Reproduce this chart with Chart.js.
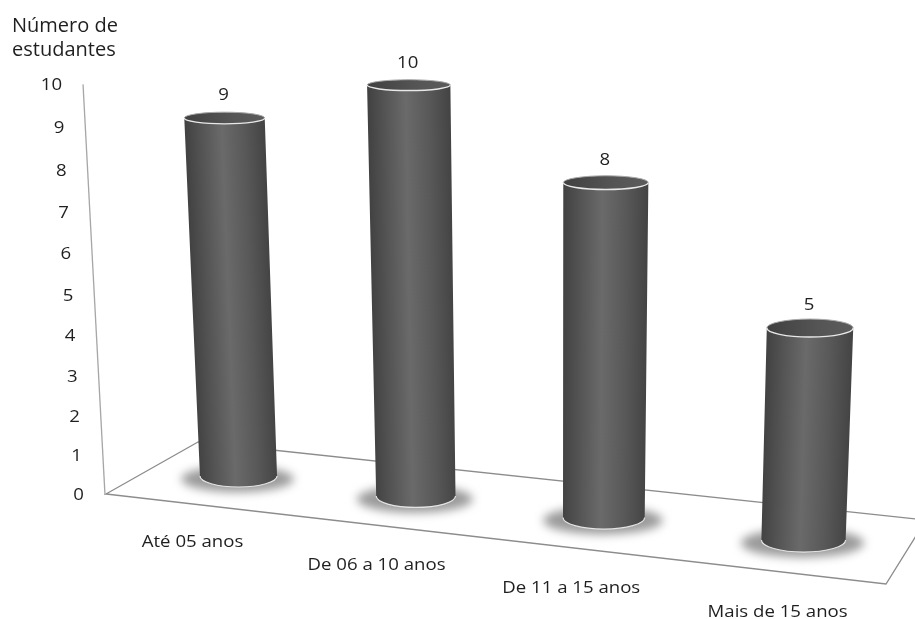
<!DOCTYPE html>
<html lang="pt">
<head>
<meta charset="utf-8">
<title>Número de estudantes</title>
<style>
  html, body { margin: 0; padding: 0; background: #ffffff; }
  canvas { display: block; }
</style>
<script src="https://cdn.jsdelivr.net/npm/chart.js@4"></script>
</head>
<body>
<canvas id="chart" width="915" height="619"></canvas>
<script>
const ageGroups = ['Até 05 anos', 'De 06 a 10 anos', 'De 11 a 15 anos', 'Mais de 15 anos'];
const studentCounts = [9, 10, 8, 5];
const axisTitle = ['Número de', 'estudantes'];
const valueAxisMax = 10;

const FONT = '"Open Sans", sans-serif';
const TEXT_COLOR = '#1f1f1f';
const LABEL_SIZE = 15.5;
const LABEL_STRETCH = 1.2;
const TITLE_SIZE = 20;

// Perspective camera: (category index, value) on the plane through the bar centres -> canvas.
const cam = { a: 165.55, b: -2.608, c: 238.5, d: 6.02, e: -40.33, f: 476, g: -0.02836, h: -0.004688 };
function project(u, v) {
  const w = cam.g * u + cam.h * v + 1;
  return { x: (cam.a * u + cam.b * v + cam.c) / w, y: (cam.d * u + cam.e * v + cam.f) / w, w };
}

// The value axis stands on the front-left corner of the floor.
function axisPoint(v) {
  const y = (495 - 41.5 * v) / (1 - 0.00521 * v);
  return { x: 105 - (495 - y) * 0.0535, y };
}

// Floor outline; the right rear corner falls just outside the canvas.
const floorFrame = [[198, 442], [106, 494], [886, 584], [926, 520]];

function drawFrame(ctx) {
  ctx.save();
  ctx.strokeStyle = '#8c8c8c';
  ctx.lineWidth = 1.3;
  ctx.beginPath();
  floorFrame.forEach(([x, y], i) => (i ? ctx.lineTo(x, y) : ctx.moveTo(x, y)));
  ctx.closePath();
  ctx.stroke();
  const top = axisPoint(valueAxisMax), bottom = axisPoint(0);
  ctx.strokeStyle = '#a6a6a6';
  ctx.beginPath();
  ctx.moveTo(top.x, top.y);
  ctx.lineTo(bottom.x, bottom.y);
  ctx.stroke();
  ctx.restore();
}

const SIDE_STOPS = [[0, '#424242'], [0.2, '#545454'], [0.46, '#6a6a6a'], [0.75, '#585858'], [1, '#444444']];

function drawCylinder(ctx, u, value, radiusUnits) {
  const base = project(u, 0), top = project(u, value);
  const R = radiusUnits * 172;
  const rxB = R / base.w, ryB = 11 / base.w;
  const rxT = R / top.w, ryT = (11 - 0.6 * value) / top.w;

  // contact shadow on the floor
  ctx.save();
  ctx.filter = 'blur(5px)';
  ctx.fillStyle = '#9a9a9a';
  ctx.beginPath();
  ctx.ellipse(base.x - 1, base.y + 3, rxB * 1.46, ryB * 1.2, 0, 0, Math.PI * 2);
  ctx.fill();
  ctx.restore();

  // shaded side, lit across the axis of the leaning cylinder
  const tx = top.x - base.x, ty = top.y - base.y, len = Math.hypot(tx, ty);
  const nx = ty / len, ny = -tx / len;        // points screen-left, since ty < 0
  const mx = (top.x + base.x) / 2, my = (top.y + base.y) / 2, r = (rxB + rxT) / 2;
  const side = ctx.createLinearGradient(mx + nx * r, my + ny * r, mx - nx * r, my - ny * r);
  SIDE_STOPS.forEach(([s, c]) => side.addColorStop(s, c));
  ctx.fillStyle = side;
  ctx.beginPath();
  ctx.moveTo(top.x - rxT, top.y);
  ctx.lineTo(base.x - rxB, base.y);
  ctx.ellipse(base.x, base.y, rxB, ryB, 0, Math.PI, 0, true);
  ctx.lineTo(top.x + rxT, top.y);
  ctx.closePath();
  ctx.fill();

  // pale lower edge of the base
  ctx.strokeStyle = '#e4e4e4';
  ctx.lineWidth = 1.2;
  ctx.beginPath();
  ctx.ellipse(base.x, base.y, rxB, ryB, 0, Math.PI, 0, true);
  ctx.stroke();

  // cap
  const cap = ctx.createLinearGradient(top.x - rxT, top.y, top.x + rxT, top.y);
  cap.addColorStop(0, '#404040');
  cap.addColorStop(0.6, '#555555');
  cap.addColorStop(1, '#5c5c5c');
  ctx.fillStyle = cap;
  ctx.beginPath();
  ctx.ellipse(top.x, top.y, rxT, ryT, 0, 0, Math.PI * 2);
  ctx.fill();
  ctx.strokeStyle = '#a8a8a8';
  ctx.lineWidth = 1;
  ctx.beginPath();
  ctx.ellipse(top.x, top.y, rxT, ryT, 0, Math.PI, 0);
  ctx.stroke();
  ctx.strokeStyle = '#e8e8e8';
  ctx.lineWidth = 1.4;
  ctx.beginPath();
  ctx.ellipse(top.x, top.y, rxT, ryT, 0, 0, Math.PI);
  ctx.stroke();
}

// Label text is set slightly wide.
function wideText(ctx, text, x, y) {
  ctx.save();
  ctx.translate(x, y);
  ctx.scale(LABEL_STRETCH, 1);
  ctx.fillText(text, 0, 0);
  ctx.restore();
}

const perspectiveCylinders = {
  id: 'perspectiveCylinders',
  afterDatasetsDraw(chart) {
    const { ctx, scales: { x: xScale, y: yScale } } = chart;
    const meta = chart.getDatasetMeta(0);
    const slot = xScale.width / xScale.ticks.length;

    drawFrame(ctx);

    meta.data.forEach((bar) => {
      const u = xScale.getValueForPixel(bar.x);
      const v = yScale.getValueForPixel(bar.y);
      drawCylinder(ctx, u, v, bar.width / slot / 2);
    });

    ctx.save();
    ctx.font = LABEL_SIZE + 'px ' + FONT;
    ctx.fillStyle = TEXT_COLOR;
    ctx.textBaseline = 'middle';

    // value labels above each cap
    ctx.textAlign = 'center';
    meta.data.forEach((bar, i) => {
      const u = xScale.getValueForPixel(bar.x);
      const p = project(u, yScale.getValueForPixel(bar.y));
      wideText(ctx, String(studentCounts[i]), p.x - 1, p.y - 22);
    });

    // value-axis tick labels follow the slanted axis
    ctx.textAlign = 'right';
    yScale.ticks.forEach((t) => {
      const p = axisPoint(t.value);
      wideText(ctx, String(t.value), p.x - 21, p.y + 1);
    });

    // category labels step down along the front edge of the floor
    ctx.textAlign = 'center';
    xScale.ticks.forEach((t, i) => {
      const p = project(i, 0);
      wideText(ctx, xScale.getLabelForValue(t.value), p.x - 46 + 6.7 * i, p.y + 67 + 2 * i);
    });
    ctx.restore();
  }
};

new Chart(document.getElementById('chart'), {
  type: 'bar',
  data: {
    labels: ageGroups,
    datasets: [{
      label: axisTitle.join(' '),
      data: studentCounts,
      backgroundColor: 'rgba(0,0,0,0)',
      barPercentage: 0.448,
      categoryPercentage: 1
    }]
  },
  options: {
    responsive: false,
    animation: false,
    layout: { padding: { left: 12 } },
    plugins: {
      legend: { display: false },
      tooltip: { enabled: false },
      title: {
        display: true,
        text: axisTitle,
        align: 'start',
        color: TEXT_COLOR,
        font: { family: FONT, size: TITLE_SIZE, weight: 'normal', lineHeight: 1.2 },
        padding: { top: 14, bottom: 0 }
      }
    },
    scales: {
      x: { display: false },
      y: { display: false, min: 0, max: valueAxisMax, ticks: { stepSize: 1 } }
    }
  },
  plugins: [perspectiveCylinders]
});
</script>
</body>
</html>
